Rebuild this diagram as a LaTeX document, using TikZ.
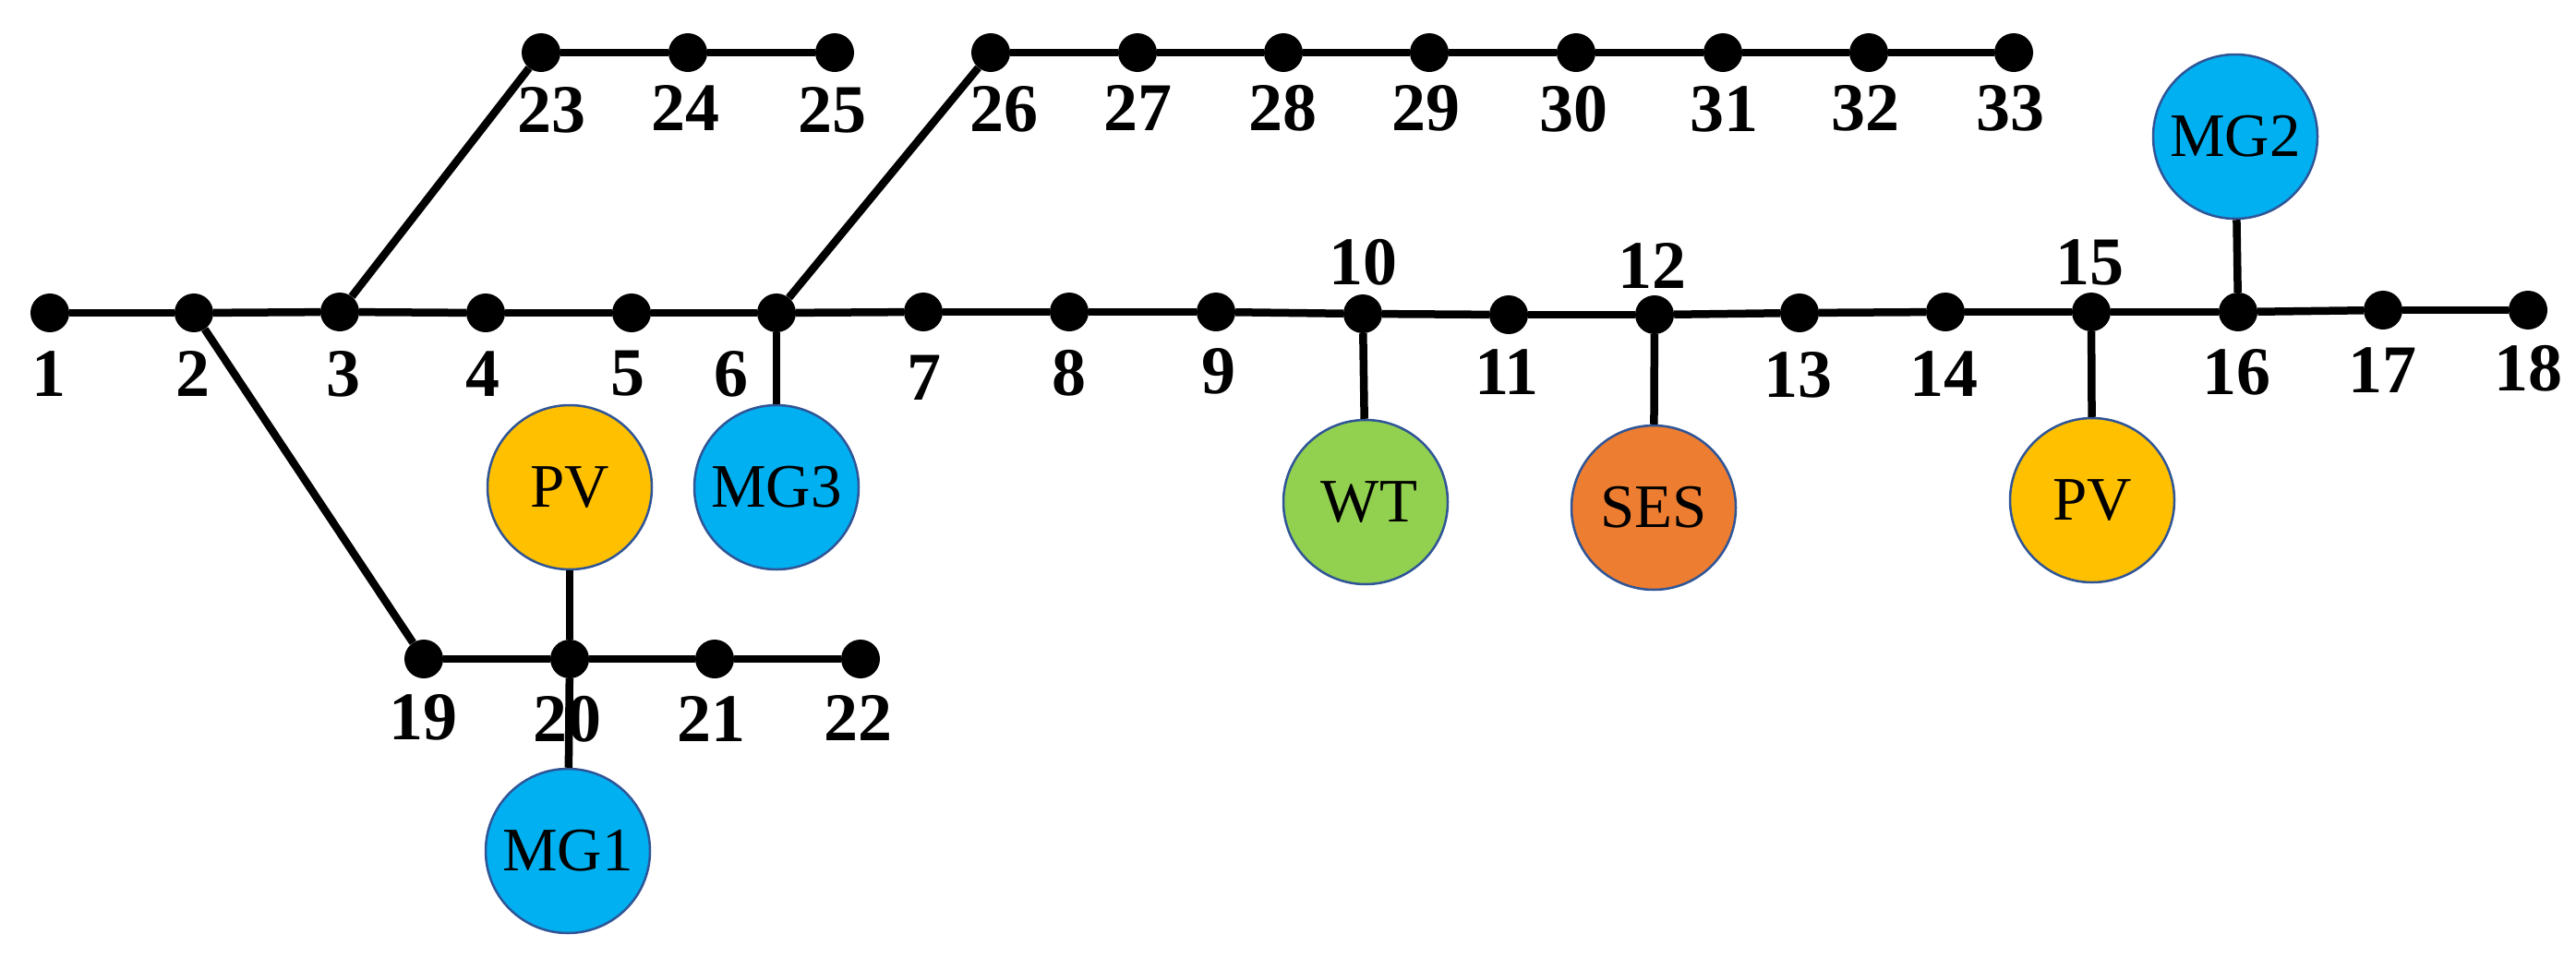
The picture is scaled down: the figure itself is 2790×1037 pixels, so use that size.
\documentclass[tikz,border=0pt]{standalone}
\usepackage{fontspec}
\setmainfont{Liberation Serif}
\definecolor{pvc}{HTML}{FFC000}
\definecolor{mgc}{HTML}{00B0F0}
\definecolor{wtc}{HTML}{92D050}
\definecolor{sesc}{HTML}{ED7D31}
\definecolor{edgec}{HTML}{2F5597}
\tikzset{
  bus/.style={circle,fill=black,draw=none,inner sep=0pt,minimum size=42},
  lbl/.style={inner sep=0pt,text=black,font=\fontsize{74}{80}\selectfont\bfseries},
  res/.style={circle,draw=edgec,line width=2.5pt,inner sep=0pt,minimum size=178,text=black,font=\fontsize{67}{72}\selectfont},
  wire/.style={draw=black,line width=8.5pt},
}
\begin{document}
\begin{tikzpicture}[x=1pt,y=-1pt]
\useasboundingbox (0,0) rectangle (2790,1037);
% buses
\foreach \i/\x/\y in {1/54/339,2/210/339,3/368/338,4/526/339,5/684/339,6/841/339,7/1000/338,8/1158/338,9/1317/338,10/1476/340,11/1634/341,12/1792/341,13/1949/339,14/2107/338,15/2265/338,16/2424/338,17/2581/336,18/2738/336,19/459/714,20/617/714,21/774/714,22/932/714,23/586/57,24/745/57,25/904/57,26/1073/57,27/1232/57,28/1390/57,29/1548/57,30/1707/57,31/1866/57,32/2024/57,33/2181/57}
  \node[bus] (n\i) at (\x,\y) {};
% bus labels
\foreach \i/\x/\y in {1/53/405,2/209/405,3/372/405,4/523/405,5/680/405,6/792/405,7/1001/409,8/1158/404,9/1320/402,10/1476/284,11/1632/403,12/1789/288,13/1947/406,14/2105/405,15/2263/284,16/2422/403,17/2580/401,18/2738/399,19/458/777,20/614/779,21/770/779,22/929/778,23/597/119,24/742/117,25/901/119,26/1087/118,27/1232/117,28/1389/117,29/1544/117,30/1704/118,31/1867/118,32/2020/117,33/2177/117}
  \node[lbl] (l\i) at (\x,\y) {\i};
% resources
\node[res,fill=pvc] (pva) at (617,528) {PV};
\node[res,fill=mgc] (mgc3) at (841,528) {MG3};
\node[res,fill=mgc] (mgc1) at (615,922) {MG1};
\node[res,fill=wtc] (wt) at (1479,544) {\kern8pt WT};
\node[res,fill=sesc] (ses) at (1791,550) {SES};
\node[res,fill=pvc] (pvb) at (2266,542) {PV};
\node[res,fill=mgc] (mgc2) at (2421,148) {MG2};
% feeder lines
\draw[wire] (n1)--(n2);\draw[wire] (n2)--(n3);\draw[wire] (n3)--(n4);\draw[wire] (n4)--(n5);\draw[wire] (n5)--(n6);
\draw[wire] (n6)--(n7);\draw[wire] (n7)--(n8);\draw[wire] (n8)--(n9);\draw[wire] (n9)--(n10);\draw[wire] (n10)--(n11);
\draw[wire] (n11)--(n12);\draw[wire] (n12)--(n13);\draw[wire] (n13)--(n14);\draw[wire] (n14)--(n15);\draw[wire] (n15)--(n16);
\draw[wire] (n16)--(n17);\draw[wire] (n17)--(n18);
\draw[wire] (n2)--(n19);\draw[wire] (n19)--(n20);\draw[wire] (n20)--(n21);\draw[wire] (n21)--(n22);
\draw[wire] (n3)--(n23);\draw[wire] (n23)--(n24);\draw[wire] (n24)--(n25);
\draw[wire] (n6)--(n26);\draw[wire] (n26)--(n27);\draw[wire] (n27)--(n28);\draw[wire] (n28)--(n29);\draw[wire] (n29)--(n30);
\draw[wire] (n30)--(n31);\draw[wire] (n31)--(n32);\draw[wire] (n32)--(n33);
% resource ties
\draw[wire] (n20)--(pva);
\draw[wire] (n20)--(mgc1);
\draw[wire] (n6)--(mgc3);
\draw[wire] (n10)--(wt);
\draw[wire] (n12)--(ses);
\draw[wire] (n15)--(pvb);
\draw[wire] (n16)--(mgc2);
\end{tikzpicture}
\end{document}
